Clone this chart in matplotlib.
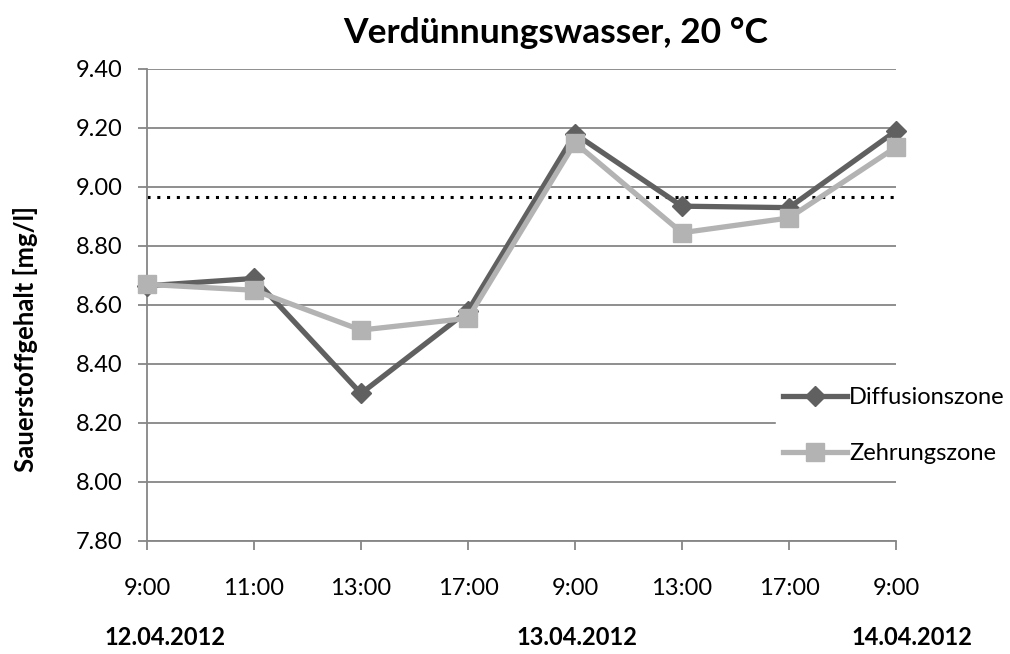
import numpy as np
import matplotlib
matplotlib.use("Agg")
import matplotlib.pyplot as plt

# Daten
zeiten = ["9:00", "11:00", "13:00", "17:00", "9:00", "13:00", "17:00", "9:00"]
diffusion = [8.665, 8.69, 8.30, 8.58, 9.18, 8.935, 8.93, 9.19]
zehrung = [8.67, 8.65, 8.515, 8.555, 9.15, 8.845, 8.895, 9.135]
grenzwert = 8.965
daten = ["12.04.2012", "13.04.2012", "14.04.2012"]
daten_pos = [0.17, 4.02, 7.15]

plt.rcParams['font.family'] = ['Lato', 'DejaVu Sans']

fig = plt.figure(figsize=(10.1, 6.54), dpi=100)
ax = fig.add_axes([0.1455, 0.1728, 0.7416, 0.7217])

x = np.arange(len(zeiten))
grau = '#868686'

ax.set_ylim(7.8, 9.4)
ax.set_xlim(0, 7)
ax.set_yticks(np.arange(7.8, 9.41, 0.2))
ax.set_yticklabels([f"{v:.2f}" for v in np.arange(7.8, 9.41, 0.2)])
ax.set_xticks(x)
ax.set_xticklabels(zeiten)
ax.yaxis.grid(True, color=grau, linewidth=1.3)
ax.set_axisbelow(True)
for s in ['top', 'right']:
    ax.spines[s].set_visible(False)
for s in ['left', 'bottom']:
    ax.spines[s].set_color(grau)
    ax.spines[s].set_linewidth(1.3)
ax.tick_params(axis='both', colors=grau, labelcolor='black', labelsize=17, length=6.5, width=1.3)
ax.tick_params(axis='x', pad=20.5)
ax.tick_params(axis='y', pad=11)

ax.axhline(grenzwert, color='black', linestyle=(0, (1, 2.2)), linewidth=2.2, zorder=2)

ax.plot(x, diffusion, color='#606060', linewidth=3.8, marker='D', markersize=10,
        label='Diffusionszone', zorder=3, clip_on=False)
ax.plot(x, zehrung, color='#b3b3b3', linewidth=3.8, marker='s', markersize=13,
        label='Zehrungszone', zorder=4, clip_on=False)

leg = ax.legend(loc='upper left', bbox_to_anchor=(0.84, 0.341), frameon=True, fontsize=17,
                handlelength=2.7, handletextpad=0.1, labelspacing=1.48, borderaxespad=0,
                borderpad=0.3)
leg.get_frame().set_edgecolor('white')
leg.get_frame().set_facecolor('white')
leg.get_frame().set_alpha(1)
leg.set_zorder(5)

ax.set_ylabel("Sauerstoffgehalt [mg/l]", fontsize=18.5, fontweight='bold')
ax.yaxis.set_label_coords(-0.1455, 0.428)
fig.text(0.55, 0.949, "Verdünnungswasser, 20 °C", fontsize=25.5, fontweight='bold',
         ha='center', va='center')

for d, p in zip(daten, daten_pos):
    ax.text(p, -0.205, d, transform=ax.get_xaxis_transform(), ha='center', va='center',
            fontsize=17, fontweight='bold')

fig.savefig("out.png", dpi=100)
